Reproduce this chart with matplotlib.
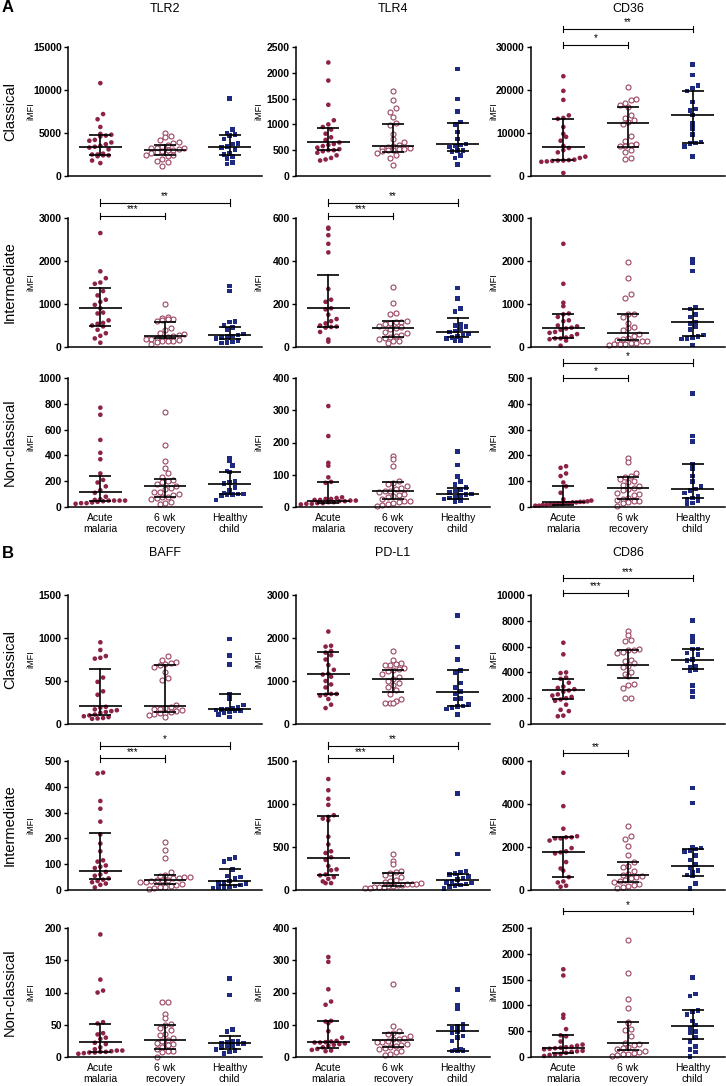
import numpy as np
import matplotlib
matplotlib.use("Agg")
import matplotlib.pyplot as plt

plt.rcParams['font.family'] = ['Liberation Sans', 'DejaVu Sans']

# group labels
groups = ["Acute\nmalaria", "6 wk\nrecovery", "Healthy\nchild"]
row_names = ["Classical", "Intermediate", "Non-classical"]
titles_a = ["TLR2", "TLR4", "CD36"]
titles_b = ["BAFF", "PD-L1", "CD86"]

# ---------------- data (iMFI values) ----------------
# Panel A, classical
TLR2_CL_ACUTE = [10800, 7200, 6600, 5700, 4900, 4800, 4700, 4600, 4200, 4100, 3900, 3700,
                 3500, 3400, 3300, 3100, 2600, 2500, 2500, 2400, 2400, 2300, 1800, 1500]
TLR2_CL_RECOV = [5000, 4700, 4500, 4200, 4000, 3800, 3600, 3400, 3300, 3300, 3200, 3100,
                 3000, 3000, 2900, 2800, 2700, 2500, 2400, 2300, 2000, 1800, 1600, 1200]
TLR2_CL_HEALTHY = [9000, 5400, 5000, 4800, 4700, 4300, 3800, 3700, 3400, 3300, 3100, 2600,
                   2500, 2300, 2000, 1600, 1400]
TLR2_CL_STATS = [[3400, 2400, 4800], [3000, 2400, 3600], [3400, 2400, 4800]]

TLR4_CL_ACUTE = [2200, 1850, 1380, 1080, 1000, 950, 900, 820, 750, 700, 650, 620,
                 600, 580, 550, 520, 500, 500, 480, 450, 400, 350, 320, 300]
TLR4_CL_RECOV = [1650, 1480, 1320, 1240, 1150, 1020, 980, 820, 720, 650, 600, 580,
                 560, 550, 540, 520, 520, 510, 500, 490, 450, 400, 350, 220]
TLR4_CL_HEALTHY = [2070, 1490, 1250, 1050, 1000, 850, 720, 620, 600, 580, 560, 500,
                   500, 480, 400, 350, 220]
TLR4_CL_STATS = [[660, 500, 930], [575, 470, 1015], [620, 490, 1020]]

CD36_CL_ACUTE = [23200, 19800, 17700, 14100, 13500, 13300, 11400, 9800, 9100, 8200, 7000, 6500,
                 6000, 5500, 4500, 4200, 3800, 3700, 3600, 3600, 3500, 3400, 3300, 700]
CD36_CL_RECOV = [20600, 17800, 17600, 17000, 16500, 16000, 14200, 13600, 13000, 12500, 12200,
                 9300, 8200, 7400, 7200, 7000, 6900, 6100, 5500, 4300, 4000]
CD36_CL_HEALTHY = [26000, 23500, 21000, 20500, 19800, 17200, 15600, 15300, 14200, 12200, 11000,
                   9600, 7900, 7700, 7500, 6800, 4500]
CD36_CL_STATS = [[6800, 3800, 13300], [12300, 6800, 16000], [14100, 7700, 19800]]

# Panel A, intermediate
TLR2_INT_ACUTE = [2650, 1760, 1600, 1500, 1470, 1300, 1200, 1100, 1050, 980, 900, 800,
                  780, 620, 560, 540, 500, 480, 400, 320, 260, 200, 100]
TLR2_INT_RECOV = [1000, 700, 680, 650, 640, 630, 600, 450, 400, 330, 300, 280,
                  250, 230, 220, 200, 190, 180, 160, 150, 140, 130, 120, 60]
TLR2_INT_HEALTHY = [1420, 1300, 600, 580, 500, 460, 400, 300, 280, 260, 250, 220,
                    200, 150, 120, 100, 90]
TLR2_INT_STATS = [[900, 490, 1370], [250, 210, 590], [270, 180, 470]]

TLR4_INT_ACUTE = [555, 550, 520, 480, 440, 270, 220, 210, 180, 175, 150, 130,
                  120, 110, 100, 95, 93, 90, 70, 35, 25]
TLR4_INT_RECOV = [280, 205, 160, 152, 120, 118, 115, 110, 105, 100, 95, 90,
                  85, 70, 65, 55, 50, 45, 40, 35, 30, 28, 20]
TLR4_INT_HEALTHY = [275, 225, 180, 165, 105, 100, 95, 85, 75, 70, 60, 55,
                    50, 45, 40, 30, 30]
TLR4_INT_STATS = [[183, 93, 337], [90, 45, 120], [70, 45, 135]]

CD36_INT_ACUTE = [2400, 1470, 1030, 950, 780, 760, 700, 620, 600, 500, 480, 450,
                  430, 400, 350, 330, 300, 250, 220, 200, 200, 180, 150, 30]
CD36_INT_RECOV = [1970, 1600, 1230, 1150, 770, 760, 700, 550, 460, 450, 400, 300,
                  250, 200, 180, 170, 150, 130, 100, 90, 80, 70, 60, 50]
CD36_INT_HEALTHY = [2050, 1950, 1770, 920, 880, 750, 700, 570, 550, 480, 400, 280,
                    250, 220, 200, 190, 50]
CD36_INT_STATS = [[440, 220, 760], [320, 170, 770], [570, 250, 890]]

# Panel A, non-classical
TLR2_NC_ACUTE = [770, 715, 520, 420, 370, 260, 210, 190, 160, 130, 110, 80,
                 60, 55, 50, 50, 50, 50, 45, 40, 35, 30, 30, 25]
TLR2_NC_RECOV = [735, 480, 360, 300, 265, 230, 210, 200, 190, 180, 160, 150,
                 140, 120, 115, 100, 90, 80, 75, 70, 60, 40, 30, 20]
TLR2_NC_HEALTHY = [380, 360, 320, 280, 270, 200, 190, 180, 150, 130, 110, 100,
                   100, 95, 95, 90, 55]
TLR2_NC_STATS = [[115, 45, 240], [160, 80, 220], [175, 100, 275]]

TLR4_NC_ACUTE = [313, 220, 137, 128, 92, 78, 75, 30, 28, 25, 25, 22,
                 22, 20, 20, 18, 18, 15, 15, 12, 12, 10, 10, 8]
TLR4_NC_RECOV = [157, 148, 127, 80, 75, 70, 65, 60, 55, 50, 50, 45,
                 40, 38, 35, 30, 25, 20, 18, 15, 12, 10, 5, 3]
TLR4_NC_HEALTHY = [172, 130, 95, 80, 70, 60, 55, 50, 45, 40, 38, 35,
                   30, 28, 25, 20, 15]
TLR4_NC_STATS = [[20, 12, 78], [50, 25, 78], [40, 25, 60]]

CD36_NC_ACUTE = [158, 152, 130, 120, 95, 80, 55, 30, 25, 22, 20, 20,
                 18, 18, 15, 15, 12, 12, 10, 10, 8, 8, 5, 5]
CD36_NC_RECOV = [190, 175, 130, 120, 115, 110, 100, 95, 85, 80, 75, 70,
                 65, 55, 50, 45, 35, 30, 28, 25, 22, 20, 15, 5]
CD36_NC_HEALTHY = [440, 275, 255, 165, 150, 120, 100, 80, 70, 65, 55, 40,
                   35, 30, 25, 15, 12]
CD36_NC_STATS = [[18, 8, 80], [73, 30, 115], [68, 35, 167]]

# Panel B, classical
BAFF_CL_ACUTE = [950, 860, 790, 770, 760, 540, 490, 380, 340, 200, 190, 170,
                 160, 150, 140, 130, 110, 100, 90, 80, 70, 65, 60]
BAFF_CL_RECOV = [790, 740, 720, 710, 700, 690, 660, 600, 530, 510, 220, 200,
                 190, 180, 170, 160, 150, 140, 130, 130, 120, 100, 80]
BAFF_CL_HEALTHY = [990, 800, 690, 350, 300, 220, 190, 180, 175, 170, 165, 160,
                   150, 140, 130, 110, 80]
BAFF_CL_STATS = [[205, 110, 645], [215, 140, 690], [175, 160, 350]]

PDL1_CL_ACUTE = [2150, 1820, 1800, 1700, 1660, 1600, 1500, 1370, 1260, 1170, 1150, 1100,
                 1000, 920, 850, 700, 700, 680, 660, 580, 450, 370]
PDL1_CL_RECOV = [1700, 1480, 1420, 1400, 1380, 1370, 1300, 1280, 1250, 1230, 1170, 1100,
                 1050, 1000, 950, 900, 850, 800, 700, 580, 540, 500, 500, 480]
PDL1_CL_HEALTHY = [2520, 1790, 1500, 1250, 1200, 950, 850, 750, 700, 600, 580, 450,
                   420, 400, 380, 350, 220]
PDL1_CL_STATS = [[1160, 700, 1670], [1050, 750, 1260], [750, 430, 1250]]

CD86_CL_ACUTE = [6300, 5400, 4000, 3950, 3600, 3500, 3200, 2900, 2800, 2700, 2600, 2500,
                 2300, 2200, 2100, 2000, 1900, 1800, 1500, 1100, 1000, 650, 600]
CD86_CL_RECOV = [7200, 6900, 6500, 6400, 5800, 5700, 5700, 5600, 5500, 5000, 4900, 4700,
                 4500, 4400, 4000, 3900, 3700, 3100, 3000, 2800, 2000, 2000]
CD86_CL_HEALTHY = [8000, 6800, 6400, 5800, 5800, 5500, 5400, 5000, 4900, 4500, 4400, 4200,
                   4100, 3000, 2500, 2100]
CD86_CL_STATS = [[2600, 1950, 3500], [4600, 3600, 5700], [4950, 4300, 5800]]

# Panel B, intermediate
BAFF_INT_ACUTE = [455, 452, 345, 315, 265, 215, 180, 150, 115, 110, 95, 90,
                  85, 70, 60, 55, 45, 40, 35, 30, 25, 20, 10]
BAFF_INT_RECOV = [185, 155, 125, 70, 60, 55, 50, 50, 45, 45, 40, 40,
                  38, 35, 30, 30, 25, 20, 15, 12, 10, 8, 5]
BAFF_INT_HEALTHY = [125, 120, 110, 80, 55, 50, 45, 35, 30, 28, 25, 20,
                    15, 12, 10, 10, 8]
BAFF_INT_STATS = [[72, 42, 222], [40, 22, 60], [35, 18, 80]]

PDL1_INT_ACUTE = [1290, 1160, 1060, 990, 870, 850, 830, 810, 620, 530, 450, 430,
                  380, 350, 280, 240, 230, 180, 170, 150, 130, 100, 80, 80]
PDL1_INT_RECOV = [420, 340, 300, 220, 210, 200, 170, 150, 120, 100, 90, 80,
                  75, 70, 65, 60, 55, 50, 45, 40, 35, 30, 25, 20]
PDL1_INT_HEALTHY = [1120, 420, 220, 200, 190, 180, 160, 140, 120, 100, 90, 80,
                    70, 60, 50, 40, 20]
PDL1_INT_STATS = [[370, 170, 860], [80, 50, 200], [120, 60, 190]]

CD86_INT_ACUTE = [5450, 3900, 2850, 2500, 2450, 2450, 2400, 2400, 2300, 1950, 1800, 1750,
                  1700, 1300, 1000, 900, 600, 400, 350, 200, 150]
CD86_INT_RECOV = [3000, 2500, 2380, 2050, 1650, 1300, 1100, 1050, 900, 750, 700, 650,
                  600, 550, 450, 400, 350, 300, 250, 200, 150, 100]
CD86_INT_HEALTHY = [4750, 4050, 2000, 1950, 1900, 1850, 1800, 1600, 1400, 1200, 1050, 900,
                    800, 700, 650, 300, 80]
CD86_INT_STATS = [[1780, 620, 2450], [700, 380, 1300], [1100, 660, 1920]]

# Panel B, non-classical
BAFF_NC_ACUTE = [190, 120, 103, 100, 54, 52, 37, 35, 30, 28, 22, 20,
                 15, 12, 10, 10, 9, 8, 8, 7, 7, 6, 5]
BAFF_NC_RECOV = [86, 86, 67, 60, 51, 49, 45, 42, 35, 34, 30, 27,
                 25, 22, 20, 18, 15, 12, 10, 10, 8, 0]
BAFF_NC_HEALTHY = [122, 96, 43, 40, 25, 24, 23, 22, 21, 20, 18, 17,
                   15, 12, 10, 8, 5]
BAFF_NC_STATS = [[23, 8, 51], [27, 13, 50], [21, 13, 32]]

PDL1_NC_ACUTE = [310, 295, 210, 172, 162, 112, 110, 105, 80, 60, 50, 48,
                 46, 45, 45, 42, 40, 38, 35, 30, 25, 22, 20, 18]
PDL1_NC_RECOV = [225, 95, 80, 75, 70, 65, 60, 55, 55, 50, 48, 45,
                 40, 38, 35, 30, 28, 25, 20, 15, 10, 5]
PDL1_NC_HEALTHY = [210, 160, 150, 100, 95, 90, 85, 80, 75, 65, 60, 50,
                   25, 22, 20, 18, 18]
PDL1_NC_STATS = [[46, 28, 112], [54, 30, 75], [82, 20, 98]]

CD86_NC_ACUTE = [1700, 1580, 820, 760, 540, 420, 400, 300, 240, 220, 200, 190,
                 180, 170, 160, 150, 120, 110, 100, 80, 60, 50, 40, 20]
CD86_NC_RECOV = [2270, 1620, 1130, 950, 680, 660, 540, 520, 400, 280, 250, 240,
                 200, 180, 150, 120, 100, 80, 60, 50, 40, 20]
CD86_NC_HEALTHY = [1540, 1220, 1180, 900, 880, 820, 700, 620, 550, 500, 480, 380,
                   300, 200, 150, 100, 10]
CD86_NC_STATS = [[170, 80, 420], [280, 140, 680], [610, 350, 910]]

# y-axis limits / tick steps per panel (row-major)
y_max = [15000, 2500, 30000,
         3000, 600, 3000,
         1000, 400, 500,
         1500, 3000, 10000,
         500, 1500, 6000,
         200, 400, 2500]
y_step = [5000, 500, 10000,
          1000, 200, 1000,
          200, 100, 100,
          500, 1000, 2000,
          100, 500, 2000,
          50, 100, 500]

# significance brackets per panel: (group1, group2, label, height in axes fraction)
sig = {
    2: [(0, 2, "**", 1.14), (0, 1, "*", 1.015)],
    3: [(0, 2, "**", 1.12), (0, 1, "***", 1.015)],
    4: [(0, 2, "**", 1.12), (0, 1, "***", 1.015)],
    8: [(0, 2, "*", 1.12), (0, 1, "*", 1.0)],
    11: [(0, 2, "***", 1.13), (0, 1, "***", 1.015)],
    12: [(0, 2, "*", 1.12), (0, 1, "***", 1.02)],
    13: [(0, 2, "**", 1.12), (0, 1, "***", 1.02)],
    14: [(0, 1, "**", 1.06)],
    17: [(0, 2, "*", 1.13)],
}

panels = [
    (TLR2_CL_ACUTE, TLR2_CL_RECOV, TLR2_CL_HEALTHY, TLR2_CL_STATS),
    (TLR4_CL_ACUTE, TLR4_CL_RECOV, TLR4_CL_HEALTHY, TLR4_CL_STATS),
    (CD36_CL_ACUTE, CD36_CL_RECOV, CD36_CL_HEALTHY, CD36_CL_STATS),
    (TLR2_INT_ACUTE, TLR2_INT_RECOV, TLR2_INT_HEALTHY, TLR2_INT_STATS),
    (TLR4_INT_ACUTE, TLR4_INT_RECOV, TLR4_INT_HEALTHY, TLR4_INT_STATS),
    (CD36_INT_ACUTE, CD36_INT_RECOV, CD36_INT_HEALTHY, CD36_INT_STATS),
    (TLR2_NC_ACUTE, TLR2_NC_RECOV, TLR2_NC_HEALTHY, TLR2_NC_STATS),
    (TLR4_NC_ACUTE, TLR4_NC_RECOV, TLR4_NC_HEALTHY, TLR4_NC_STATS),
    (CD36_NC_ACUTE, CD36_NC_RECOV, CD36_NC_HEALTHY, CD36_NC_STATS),
    (BAFF_CL_ACUTE, BAFF_CL_RECOV, BAFF_CL_HEALTHY, BAFF_CL_STATS),
    (PDL1_CL_ACUTE, PDL1_CL_RECOV, PDL1_CL_HEALTHY, PDL1_CL_STATS),
    (CD86_CL_ACUTE, CD86_CL_RECOV, CD86_CL_HEALTHY, CD86_CL_STATS),
    (BAFF_INT_ACUTE, BAFF_INT_RECOV, BAFF_INT_HEALTHY, BAFF_INT_STATS),
    (PDL1_INT_ACUTE, PDL1_INT_RECOV, PDL1_INT_HEALTHY, PDL1_INT_STATS),
    (CD86_INT_ACUTE, CD86_INT_RECOV, CD86_INT_HEALTHY, CD86_INT_STATS),
    (BAFF_NC_ACUTE, BAFF_NC_RECOV, BAFF_NC_HEALTHY, BAFF_NC_STATS),
    (PDL1_NC_ACUTE, PDL1_NC_RECOV, PDL1_NC_HEALTHY, PDL1_NC_STATS),
    (CD86_NC_ACUTE, CD86_NC_RECOV, CD86_NC_HEALTHY, CD86_NC_STATS),
]

# ---------------- layout (pixels) ----------------
FIG_W, FIG_H = 726, 1086
AX_W, AX_H = 194, 129
col_left = [68, 296, 531]
row_top = [47, 218, 378, 595, 761, 928]
PX_PER_UNIT = AX_W / 3.0

MAROON = "#8c2346"
MAROON_OPEN = "#9c4563"
NAVY = "#1d2a80"


def scatter_offsets(values, ymax, bin_px=7.0, step_px=5.5, max_px=28.0):
    """GraphPad-like scatter: points falling in the same y-bin sit side by side"""
    ypx = np.asarray(values, dtype=float) / ymax * AX_H
    bins = np.floor(ypx / bin_px).astype(int)
    xs = np.zeros(len(ypx))
    for b in np.unique(bins):
        idx = np.where(bins == b)[0]
        n = len(idx)
        if n == 1:
            continue
        step = min(step_px, 2 * max_px / (n - 1))
        idx = idx[np.argsort(ypx[idx])]
        xs[idx] = (np.arange(n) - (n - 1) / 2) * step
    return xs / PX_PER_UNIT


fig = plt.figure(figsize=(FIG_W / 100, FIG_H / 100), dpi=100)

styles = [
    dict(marker="o", s=11, facecolor=MAROON, edgecolor="none"),
    dict(marker="o", s=13, facecolor="white", edgecolor=MAROON_OPEN, linewidths=0.8),
    dict(marker="s", s=11, facecolor=NAVY, edgecolor="none"),
]

for k, (acute, recov, healthy, stats) in enumerate(panels):
    r, c = divmod(k, 3)
    left = col_left[c] / FIG_W
    bottom = (FIG_H - row_top[r] - AX_H) / FIG_H
    ax = fig.add_axes([left, bottom, AX_W / FIG_W, AX_H / FIG_H])
    ymax = y_max[k]

    for g, vals in enumerate([acute, recov, healthy]):
        xoff = scatter_offsets(vals, ymax)
        ax.scatter(g + xoff, vals, zorder=2, clip_on=False, **styles[g])
        med, q1, q3 = stats[g]
        ax.plot([g - 0.33, g + 0.33], [med, med], color="black", lw=1.2, zorder=3,
                solid_capstyle="butt")
        ax.plot([g, g], [q1, q3], color="black", lw=1.2, zorder=3)
        for q in (q1, q3):
            ax.plot([g - 0.17, g + 0.17], [q, q], color="black", lw=1.2, zorder=3,
                    solid_capstyle="butt")

    ax.set_xlim(-0.5, 2.5)
    ax.set_ylim(0, ymax)
    ax.set_yticks(np.arange(0, ymax + 1, y_step[k]))
    ax.tick_params(axis="y", length=3, width=1, pad=1.5, labelsize=7.5)
    for lab in ax.get_yticklabels():
        lab.set_fontweight("bold")
    ax.set_xticks([0, 1, 2])
    if r in (2, 5):
        ax.set_xticklabels(groups, fontsize=7.5, linespacing=1.15)
        ax.tick_params(axis="x", length=0, pad=4)
    else:
        ax.set_xticklabels([])
        ax.tick_params(axis="x", length=0)
    for side in ("top", "right"):
        ax.spines[side].set_visible(False)
    for side in ("left", "bottom"):
        ax.spines[side].set_linewidth(1.1)
    ax.patch.set_alpha(0)

    ax.text(-37 / AX_W, 0.5, "iMFI", transform=ax.transAxes, rotation=90,
            ha="center", va="center", fontsize=6.5)

    if c == 0:
        ax.text(-58 / AX_W, 0.5, row_names[r % 3], transform=ax.transAxes, rotation=90,
                ha="center", va="center", fontsize=10.5)

    for g1, g2, label, h in sig.get(k, []):
        tr = ax.get_xaxis_transform()
        ax.plot([g1, g2], [h, h], color="black", lw=0.8, transform=tr, clip_on=False)
        for g in (g1, g2):
            ax.plot([g, g], [h - 0.025, h + 0.025], color="black", lw=0.8,
                    transform=tr, clip_on=False)
        ax.text((g1 + g2) / 2, h + 0.012, label, transform=tr, ha="center",
                va="bottom", fontsize=7)

# column titles and panel letters
for c in range(3):
    xc = (col_left[c] + AX_W / 2) / FIG_W
    fig.text(xc, 1 - 9 / FIG_H, titles_a[c], ha="center", va="center", fontsize=9)
    fig.text(xc, 1 - 553 / FIG_H, titles_b[c], ha="center", va="center", fontsize=9)
fig.text(2 / FIG_W, 1 - 8 / FIG_H, "A", ha="left", va="center", fontsize=12,
         fontweight="bold")
fig.text(2 / FIG_W, 1 - 553 / FIG_H, "B", ha="left", va="center", fontsize=12,
         fontweight="bold")

fig.savefig("out.png", dpi=100)
